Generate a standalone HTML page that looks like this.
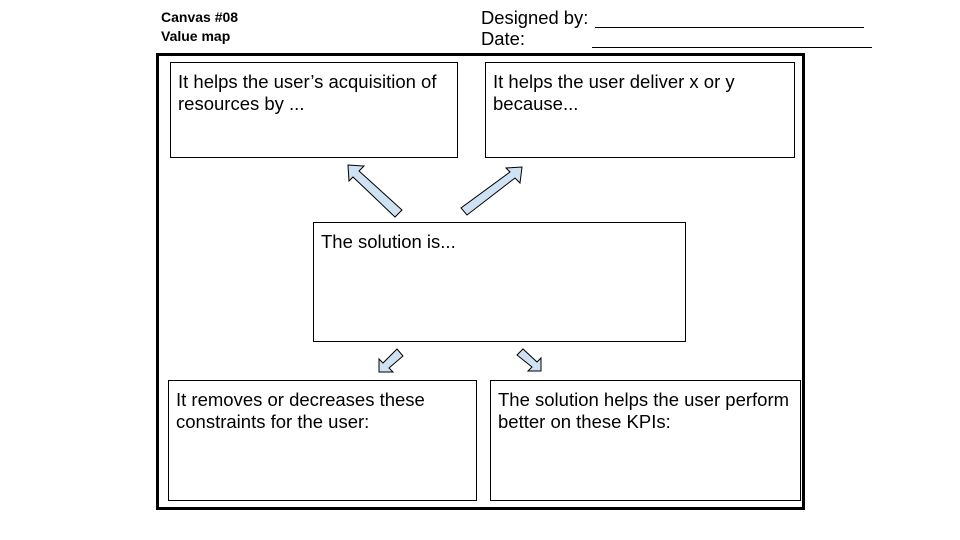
<!DOCTYPE html>
<html><head><style>
body{margin:0;width:960px;height:540px;background:#fff;position:relative;font-family:"Liberation Sans",Arial,sans-serif;overflow:hidden}
.a{position:absolute}
.box{position:absolute;border:1px solid #000;box-sizing:border-box;font-size:18.5px;line-height:22px;padding:8px 7px;color:#000}
.h{font-weight:bold;font-size:14px;line-height:19px}
</style></head><body>
<div class="a h" style="left:161px;top:8px">Canvas #08<br>Value map</div>
<div class="a" style="left:481px;top:7px;font-size:18.4px;line-height:21px">Designed by:<br>Date:</div>
<div class="a" style="left:595px;top:27px;width:269px;border-top:1px solid #000"></div>
<div class="a" style="left:592px;top:47px;width:280px;border-top:1px solid #000"></div>
<div class="a" style="left:156px;top:53px;width:649px;height:457px;border:3px solid #000;box-sizing:border-box"></div>
<div class="box" style="left:170px;top:62px;width:288px;height:96px">It helps the user’s acquisition of resources by ...</div>
<div class="box" style="left:485px;top:62px;width:310px;height:96px">It helps the user deliver x or y because...</div>
<div class="box" style="left:313px;top:222px;width:373px;height:120px">The solution is...</div>
<div class="box" style="left:168px;top:380px;width:309px;height:121px">It removes or decreases these constraints for the user:</div>
<div class="box" style="left:490px;top:380px;width:311px;height:121px">The solution helps the user perform better on these KPIs:</div>
<svg class="a" style="left:0;top:0" width="960" height="540">
<g fill="#cfe2f3" stroke="#000" stroke-width="1" stroke-linejoin="miter">
<polygon points="348,165 364,166 359,171 402,210 395,217 353,177 349,181"/>
<polygon points="522,167 520,183 515,178 467,215 461,208 510,172 506,168"/>
<polygon points="379,372 379,359 383,363 397,349 403,356 389,368 393,372"/>
<polygon points="541,371 528,371 532,367 517,355 523,349 537,362 541,358"/>
</g></svg>
</body></html>
